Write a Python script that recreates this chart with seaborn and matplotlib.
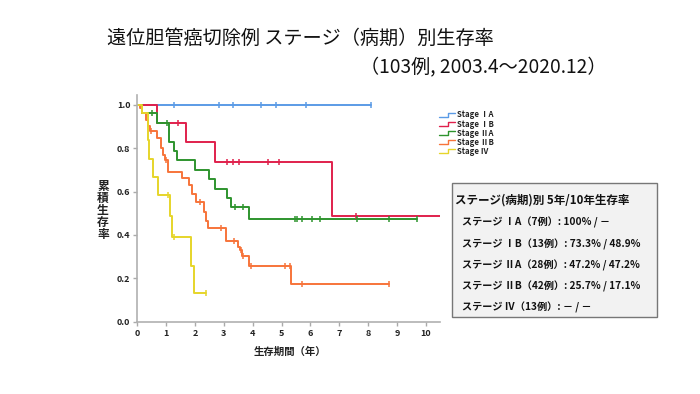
import numpy as np
import pandas as pd
import matplotlib
matplotlib.use("Agg")
import matplotlib.pyplot as plt
import seaborn as sns
from matplotlib.lines import Line2D
from matplotlib.legend_handler import HandlerBase
from matplotlib.patches import Rectangle

# ---------------- data ----------------
stages = ["Stage ⅠA", "Stage ⅠB", "Stage ⅡA", "Stage ⅡB", "Stage Ⅳ"]
colors = ["#5b9be6", "#e0204c", "#2e942e", "#f7743a", "#e6d52a"]

ia_event_t = []
ia_event_s = []
ia_cens = [1.26, 2.83, 3.32, 4.29, 4.80, 5.86, 8.09]
ia_end = 8.09

ib_event_t = [0.68, 1.70, 2.69, 6.74]
ib_event_s = [0.915, 0.826, 0.734, 0.489]
ib_cens = [1.40, 3.10, 3.33, 3.51, 4.52, 4.91, 7.58]
ib_end = 11.0

iia_event_t = [0.15, 0.68, 1.10, 1.28, 1.38, 1.99, 2.49, 2.70, 3.12, 3.24, 3.87]
iia_event_s = [0.962, 0.915, 0.830, 0.788, 0.745, 0.700, 0.657, 0.612, 0.569, 0.528, 0.475]
iia_cens = [0.52, 1.03, 3.39, 3.66, 5.45, 5.55, 5.71, 6.04, 6.33, 7.61, 8.73, 9.69]
iia_end = 9.69

iib_event_t = [0.08, 0.15, 0.29, 0.38, 0.45, 0.68, 0.82, 0.90, 0.95, 1.08, 1.55,
               1.81, 1.90, 2.02, 2.31, 2.40, 2.44, 3.08, 3.50, 3.57, 3.62, 3.89, 5.34]
iib_event_s = [0.985, 0.960, 0.930, 0.900, 0.880, 0.846, 0.800, 0.770, 0.746, 0.690, 0.660,
               0.630, 0.590, 0.550, 0.505, 0.465, 0.434, 0.374, 0.342, 0.331, 0.303, 0.258, 0.172]
iib_cens = [0.47, 1.00, 2.16, 2.91, 3.36, 3.59, 3.68, 3.94, 5.13, 5.30, 5.72, 8.74]
iib_end = 8.74

iv_event_t = [0.15, 0.36, 0.42, 0.56, 0.73, 1.14, 1.21, 1.86, 1.96]
iv_event_s = [0.960, 0.838, 0.751, 0.666, 0.585, 0.488, 0.389, 0.258, 0.131]
iv_cens = [1.08, 1.26, 2.39]
iv_end = 2.39

event_t = [ia_event_t, ib_event_t, iia_event_t, iib_event_t, iv_event_t]
event_s = [ia_event_s, ib_event_s, iia_event_s, iib_event_s, iv_event_s]
cens_t = [ia_cens, ib_cens, iia_cens, iib_cens, iv_cens]
end_t = [ia_end, ib_end, iia_end, iib_end, iv_end]

x_ticks = list(range(0, 11))
y_ticks = [0.0, 0.2, 0.4, 0.6, 0.8, 1.0]

title = "遠位胆管癌切除例 ステージ（病期）別生存率"
subtitle = "（103例, 2003.4～2020.12）"
xlabel = "生存期間（年）"
ylabel = "累\n積\n生\n存\n率"
box_title = "ステージ(病期)別 5年/10年生存率"
box_lines = [
    "ステージ ⅠA（7例）: 100% / －",
    "ステージ ⅠB（13例）: 73.3% / 48.9%",
    "ステージ ⅡA（28例）: 47.2% / 47.2%",
    "ステージ ⅡB（42例）: 25.7% / 17.1%",
    "ステージ Ⅳ（13例）: － / －",
]

# ---------------- build tables ----------------
curve_rows = []
cens_rows = []
for st, et, es, ct, ee in zip(stages, event_t, event_s, cens_t, end_t):
    ts = [0.0] + list(et) + [ee]
    ss = [1.0] + list(es) + [es[-1] if es else 1.0]
    for t, s in zip(ts, ss):
        curve_rows.append({"t": t, "s": s, "stage": st})
    et_arr = np.array([0.0] + list(et))
    ss_arr = np.array([1.0] + list(es))
    for c in ct:
        idx = np.searchsorted(et_arr, c, side="right") - 1
        cens_rows.append({"t": c, "s": ss_arr[idx], "stage": st})
curves = pd.DataFrame(curve_rows)
cens = pd.DataFrame(cens_rows)

# ---------------- plot ----------------
sns.set_theme(style="white")
plt.rcParams["font.family"] = ["Noto Sans CJK JP", "DejaVu Sans"]

fig = plt.figure(figsize=(7.0, 3.94), dpi=100)
ax = fig.add_axes([0.196, 0.1835, 0.433, 0.5755])

pal = dict(zip(stages, colors))
for st in stages:
    d = curves[curves.stage == st]
    sns.lineplot(data=d, x="t", y="s", color=pal[st], drawstyle="steps-post",
                 estimator=None, sort=False, lw=1.4, ax=ax, legend=False,
                 clip_on=True)
    dc = cens[cens.stage == st]
    sns.scatterplot(data=dc, x="t", y="s", color=pal[st], marker="|", s=24,
                    linewidth=1.1, ax=ax, legend=False, zorder=3)

ax.set_xlim(0, 10.5)
ax.set_ylim(0, 1.045)
ax.set_xticks(x_ticks)
ax.set_yticks(y_ticks)
ax.set_xticklabels([str(v) for v in x_ticks], fontsize=6.5, fontweight="bold", color="#222222")
ax.set_yticklabels([f"{v:.1f}" for v in y_ticks], fontsize=6.5, fontweight="bold", color="#222222")
ax.tick_params(axis="both", length=3, width=1, color="#aaaaaa", pad=2, bottom=True, left=True)
for sp in ["top", "right"]:
    ax.spines[sp].set_visible(False)
for sp in ["left", "bottom"]:
    ax.spines[sp].set_color("#b0b0b0")
    ax.spines[sp].set_linewidth(1.2)
ax.set_xlabel("")
ax.set_ylabel("")

fig.text(290 / 700, 1 - 352 / 394, xlabel, ha="center", va="center",
         fontsize=7.5, fontweight="bold", color="#222222")
fig.text(103 / 700, 1 - 210 / 394, ylabel, ha="center", va="center",
         fontsize=8.5, fontweight="bold", color="#222222", linespacing=0.9)

fig.text(107 / 700, 1 - 38 / 394, title, ha="left", va="center",
         fontsize=13.8, color="#111111")
fig.text(360 / 700, 1 - 68 / 394, subtitle, ha="left", va="center",
         fontsize=13.8, color="#111111")


class StepHandler(HandlerBase):
    def create_artists(self, legend, orig_handle, xdescent, ydescent,
                       width, height, fontsize, trans):
        x0 = -xdescent
        y0 = -ydescent
        xs = [x0, x0 + width * 0.55, x0 + width * 0.55, x0 + width]
        ys = [y0 + height * 0.15, y0 + height * 0.15, y0 + height * 0.85, y0 + height * 0.85]
        ln = Line2D(xs, ys, color=orig_handle.get_color(), lw=1.0)
        ln.set_transform(trans)
        return [ln]


handles = [Line2D([], [], color=c) for c in colors]
leg = fig.legend(handles, stages, loc="upper left",
                 bbox_to_anchor=(434 / 700, 1 - 105 / 394),
                 handler_map={Line2D: StepHandler()},
                 frameon=False, fontsize=5.6, handlelength=2.0, handleheight=0.8,
                 handletextpad=0.3, labelspacing=0.02, borderpad=0.2)
for t in leg.get_texts():
    t.set_fontweight("bold")
    t.set_color("#222222")

# summary box
rect = Rectangle((452 / 700, 1 - 317 / 394), (657 - 452) / 700, (317 - 183) / 394,
                 transform=fig.transFigure, facecolor="#f2f2f2",
                 edgecolor="#777777", lw=1.0, zorder=0)
fig.patches.append(rect)
fig.text(455 / 700, 1 - 200 / 394, box_title, ha="left", va="center",
         fontsize=8.3, fontweight="bold", color="#111111")
ys_px = [222, 244, 265, 286, 307]
for line, yp in zip(box_lines, ys_px):
    fig.text(462 / 700, 1 - yp / 394, line, ha="left", va="center",
             fontsize=7.3, fontweight="bold", color="#111111")

fig.savefig("out.png", dpi=100)
